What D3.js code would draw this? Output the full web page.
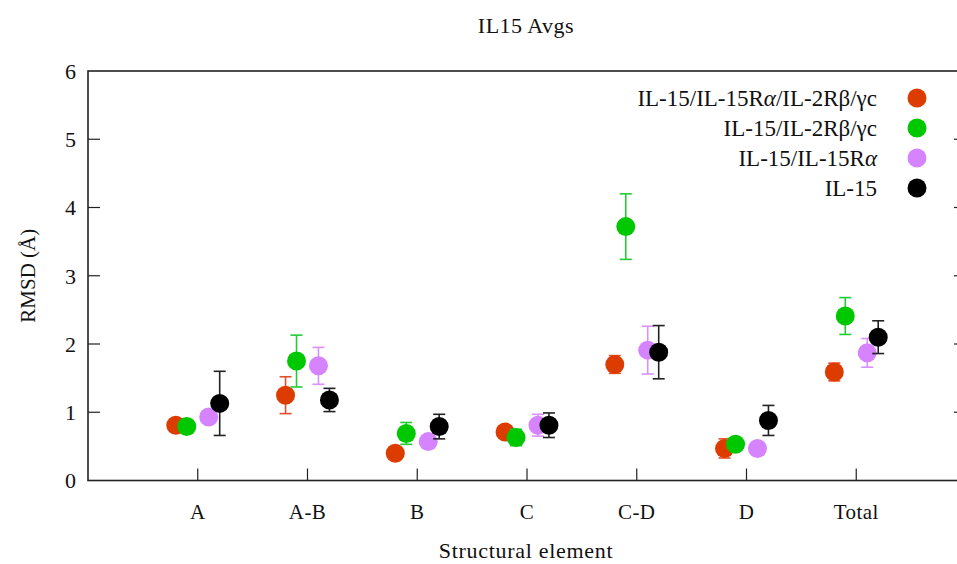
<!DOCTYPE html>
<html>
<head>
<meta charset="utf-8">
<script src="https://cdn.jsdelivr.net/npm/d3@7"></script>
<style>
  body { margin: 0; background: #fff; }
  svg text { font-family: "Liberation Serif", serif; fill: #111; }
</style>
</head>
<body>
<div id="chart"></div>
<script>
// --- data ---
const categories = ["A", "A-B", "B", "C", "C-D", "D", "Total"];
const yTicks = [0, 1, 2, 3, 4, 5, 6];

const seriesNames = ["IL-15/IL-15Rα/IL-2Rβ/γc", "IL-15/IL-2Rβ/γc", "IL-15/IL-15Rα", "IL-15"];
const seriesColors = ["#dd3c00", "#00c800", "#d583ff", "#000000"];
const barColors    = ["#e0502a", "#22cc33", "#d890ff", "#222222"];
const seriesOffsets = [-0.2, -0.1, 0.1, 0.2];

const complexVals = [0.81, 1.25, 0.40, 0.71, 1.70, 0.47, 1.59];
const complexErr  = [0.07, 0.27, 0.04, 0.05, 0.13, 0.14, 0.13];
const il2rVals    = [0.79, 1.75, 0.69, 0.63, 3.72, 0.53, 2.41];
const il2rErr     = [0.05, 0.38, 0.16, 0.12, 0.48, 0.05, 0.27];
const il15raVals  = [0.93, 1.68, 0.57, 0.81, 1.91, 0.47, 1.87];
const il15raErr   = [0.06, 0.27, 0.05, 0.16, 0.35, 0.05, 0.21];
const il15Vals    = [1.13, 1.18, 0.79, 0.81, 1.88, 0.88, 2.10];
const il15Err     = [0.47, 0.17, 0.18, 0.18, 0.39, 0.22, 0.24];

const allVals = [complexVals, il2rVals, il15raVals, il15Vals];
const allErr  = [complexErr, il2rErr, il15raErr, il15Err];

// --- layout ---
const width = 957, height = 564;
const plotL = 88, plotR = 966, plotT = 71, plotB = 480.5;
const r = 9.5, cap = 6, tickLen = 12;

const svg = d3.select("#chart").append("svg")
  .attr("width", width).attr("height", height);

const x = d3.scaleLinear().domain([0, categories.length + 1]).range([plotL, plotR]);
const y = d3.scaleLinear().domain([0, 6]).range([plotB, plotT]);

// frame
svg.append("rect")
  .attr("x", plotL).attr("y", plotT)
  .attr("width", plotR - plotL).attr("height", plotB - plotT)
  .attr("fill", "none").attr("stroke", "#222").attr("stroke-width", 1.6);

// y ticks (left + mirrored right), inward
const yAxis = svg.append("g").attr("class", "y-axis");
yTicks.forEach(t => {
  if (t > 0 && t < 6) {
    yAxis.append("line").attr("x1", plotL).attr("x2", plotL + tickLen)
      .attr("y1", y(t)).attr("y2", y(t)).attr("stroke", "#222").attr("stroke-width", 1.2);
    yAxis.append("line").attr("x1", plotR).attr("x2", plotR - tickLen)
      .attr("y1", y(t)).attr("y2", y(t)).attr("stroke", "#222").attr("stroke-width", 1.2);
  }
  yAxis.append("text")
    .attr("x", 76).attr("y", y(t)).attr("dy", "0.36em")
    .attr("text-anchor", "end").attr("font-size", 22)
    .text(t);
});

// x ticks, inward from the bottom
const xAxis = svg.append("g").attr("class", "x-axis");
categories.forEach((c, i) => {
  xAxis.append("line").attr("x1", x(i + 1)).attr("x2", x(i + 1))
    .attr("y1", plotB).attr("y2", plotB - tickLen)
    .attr("stroke", "#222").attr("stroke-width", 1.2);
  xAxis.append("text")
    .attr("x", x(i + 1)).attr("y", 519)
    .attr("text-anchor", "middle").attr("font-size", 21)
    .attr("letter-spacing", 0.4)
    .text(c);
});

// titles
svg.append("text").attr("x", (plotL + plotR) / 2 - 1).attr("y", 33)
  .attr("text-anchor", "middle").attr("font-size", 22)
  .attr("letter-spacing", 0.5).text("IL15 Avgs");
svg.append("text").attr("x", (plotL + plotR) / 2 - 1).attr("y", 558)
  .attr("text-anchor", "middle").attr("font-size", 22)
  .attr("letter-spacing", 0.7).text("Structural element");
svg.append("text")
  .attr("transform", `translate(35,${(plotT + plotB) / 2}) rotate(-90)`)
  .attr("text-anchor", "middle").attr("font-size", 21).text("RMSD (Å)");

// series: error bars then points
allVals.forEach((vals, s) => {
  const g = svg.append("g").attr("class", "series");
  const err = allErr[s];
  const pts = vals.map((v, i) => ({ cx: x(i + 1 + seriesOffsets[s]), v, e: err[i] }));

  const bars = g.selectAll("g.bar").data(pts).join("g").attr("class", "bar")
    .attr("stroke", barColors[s]).attr("stroke-width", 1.6);
  bars.append("line")
    .attr("x1", d => d.cx).attr("x2", d => d.cx)
    .attr("y1", d => y(d.v - d.e)).attr("y2", d => y(d.v + d.e));
  bars.append("line")
    .attr("x1", d => d.cx - cap).attr("x2", d => d.cx + cap)
    .attr("y1", d => y(d.v + d.e)).attr("y2", d => y(d.v + d.e));
  bars.append("line")
    .attr("x1", d => d.cx - cap).attr("x2", d => d.cx + cap)
    .attr("y1", d => y(d.v - d.e)).attr("y2", d => y(d.v - d.e));

  g.selectAll("circle").data(pts).join("circle")
    .attr("cx", d => d.cx).attr("cy", d => y(d.v))
    .attr("r", r).attr("fill", seriesColors[s]);
});

// legend
const legend = svg.append("g").attr("class", "legend");
seriesNames.forEach((name, i) => {
  const ly = 98 + i * 30;
  const t = legend.append("text")
    .attr("x", 877).attr("y", ly).attr("dy", "0.35em")
    .attr("text-anchor", "end").attr("font-size", 23);
  // alpha drawn italic like the original
  name.split(/(α)/).forEach(part => {
    if (!part) return;
    const sp = t.append("tspan").text(part);
    if (part === "α") sp.attr("font-style", "italic");
  });
  legend.append("circle").attr("cx", 917).attr("cy", ly).attr("r", r)
    .attr("fill", seriesColors[i]);
});
</script>
</body>
</html>
